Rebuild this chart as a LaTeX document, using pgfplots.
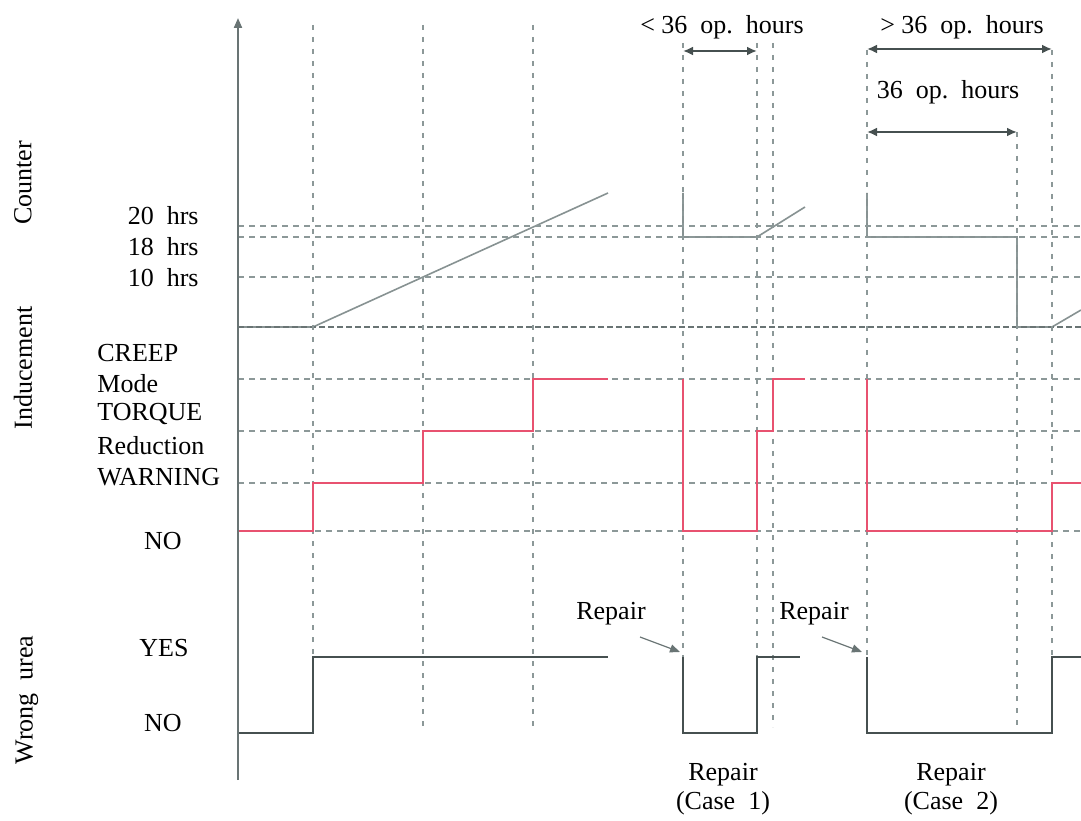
\documentclass[border=0pt]{standalone}
\usepackage{pgfplots}
\usepackage{pgfplotstable}
\pgfplotsset{compat=1.18}
\usepackage{fontspec}
\setmainfont{Liberation Serif}
\usetikzlibrary{arrows.meta}

\definecolor{gridgray}{RGB}{140,152,152}
\definecolor{axisgray}{RGB}{105,116,116}
\definecolor{countgray}{RGB}{135,146,146}
\definecolor{indred}{RGB}{232,82,112}
\definecolor{ureagray}{RGB}{70,80,80}

% picture coordinates: x to the right, y upwards, 1 unit = 1 px of the reference
\pgfplotstableread{
x h
238 0
313 0
608 26.8
}\countA
\pgfplotstableread{
x h
683 26.8
683 18
757 18
805 24
}\countB
\pgfplotstableread{
x h
867 26.8
867 18
1017 18
1017 0
1052 0
1081 3.4
}\countC

\begin{document}
\begin{tikzpicture}[every node/.style={font=\fontsize{13}{15}\selectfont, inner sep=0pt}]
\begin{axis}[
    scale only axis,
    width=540.5pt, height=410pt,
    xmin=0, xmax=1081, ymin=0, ymax=820,
    hide axis, clip=false,
]
    % counter, hours -> picture height
    \addplot[countgray, line width=0.8pt] table[x=x, y expr=493+5*\thisrow{h}] {\countA};
    \addplot[countgray, line width=0.8pt] table[x=x, y expr=493+5*\thisrow{h}] {\countB};
    \addplot[countgray, line width=0.8pt] table[x=x, y expr=493+5*\thisrow{h}] {\countC};

    % horizontal dashed levels
    \foreach \yy in {594,583,543,441,389,337,289} {
        \edef\temp{\noexpand\addplot[gridgray, line width=0.9pt, dash pattern=on 3pt off 2.5pt]
            coordinates {(238,\yy) (1081,\yy)};}
        \temp
    }
    \addplot[axisgray, line width=1pt, dash pattern=on 3pt off 1.5pt] coordinates {(238,493) (1081,493)};

    % vertical dashed events
    \addplot[gridgray, line width=0.9pt, dash pattern=on 2.5pt off 3.5pt] coordinates {(313,795) (313,87)};
    \addplot[gridgray, line width=0.9pt, dash pattern=on 2.5pt off 3.5pt] coordinates {(423,795) (423,90)};
    \addplot[gridgray, line width=0.9pt, dash pattern=on 2.5pt off 3.5pt] coordinates {(533,795) (533,90)};
    \addplot[gridgray, line width=0.9pt, dash pattern=on 2.5pt off 3.5pt] coordinates {(683,777) (683,87)};
    \addplot[gridgray, line width=0.9pt, dash pattern=on 2.5pt off 3.5pt] coordinates {(757,777) (757,87)};
    \addplot[gridgray, line width=0.9pt, dash pattern=on 2.5pt off 3.5pt] coordinates {(773,777) (773,93)};
    \addplot[gridgray, line width=0.9pt, dash pattern=on 2.5pt off 3.5pt] coordinates {(867,770) (867,87)};
    \addplot[gridgray, line width=0.9pt, dash pattern=on 2.5pt off 3.5pt] coordinates {(1017,688) (1017,87)};
    \addplot[gridgray, line width=0.9pt, dash pattern=on 2.5pt off 3.5pt] coordinates {(1052,770) (1052,87)};

    % inducement (red steps)
    \addplot[indred, line width=1.2pt] coordinates {
        (238,289) (313,289) (313,337) (423,337) (423,389) (533,389) (533,441) (608,441)
    };
    \addplot[indred, line width=1.2pt] coordinates {
        (683,441) (683,289) (757,289) (757,389) (773,389) (773,441) (805,441)
    };
    \addplot[indred, line width=1.2pt] coordinates {
        (867,441) (867,289) (1052,289) (1052,337) (1081,337)
    };

    % wrong urea (dark steps)
    \addplot[ureagray, line width=1.1pt] coordinates {
        (238,87) (313,87) (313,163) (608,163)
    };
    \addplot[ureagray, line width=1.1pt] coordinates {
        (683,163) (683,87) (757,87) (757,163) (800,163)
    };
    \addplot[ureagray, line width=1.1pt] coordinates {
        (867,163) (867,87) (1052,87) (1052,163) (1081,163)
    };

    % vertical axis with arrow
    \draw[axisgray, line width=1pt, -{Triangle[length=5pt,width=4pt]}] (axis cs:238,40) -- (axis cs:238,802);

    % duration arrows
    \draw[ureagray, line width=1pt, {Latex[length=5pt,width=4.5pt]}-{Latex[length=5pt,width=4.5pt]}]
        (axis cs:683,769) -- (axis cs:757,769);
    \draw[ureagray, line width=1pt, {Latex[length=5pt,width=4.5pt]}-{Latex[length=5pt,width=4.5pt]}]
        (axis cs:867,771) -- (axis cs:1052,771);
    \draw[ureagray, line width=1pt, {Latex[length=5pt,width=4.5pt]}-{Latex[length=5pt,width=4.5pt]}]
        (axis cs:867,688) -- (axis cs:1017,688);
    \node at (axis cs:722,793) {<\ 36\ \ op.\ \ hours};
    \node at (axis cs:962,793) {>\ 36\ \ op.\ \ hours};
    \node at (axis cs:948,728) {36\ \ op.\ \ hours};

    % repair pointers
    \node at (axis cs:611,206) {Repair};
    \node at (axis cs:814,206) {Repair};
    \draw[axisgray, line width=0.6pt, -{Triangle[length=5pt,width=4pt]}] (axis cs:640,183) -- (axis cs:680,168);
    \draw[axisgray, line width=0.6pt, -{Triangle[length=5pt,width=4pt]}] (axis cs:822,183) -- (axis cs:862,168);
    \node at (axis cs:723,45) {Repair};
    \node at (axis cs:723,17) {(Case\ \ 1)};
    \node at (axis cs:951,45) {Repair};
    \node at (axis cs:951,17) {(Case\ \ 2)};

    % panel titles
    \node[rotate=90] at (axis cs:23,637) {Counter};
    \node[rotate=90] at (axis cs:23,452) {Inducement};
    \node[rotate=90] at (axis cs:27,120) {Wrong\ \ urea};

    % level labels
    \node[anchor=east] at (axis cs:199,604) {20\ \ hrs};
    \node[anchor=east] at (axis cs:199,573) {18\ \ hrs};
    \node[anchor=east] at (axis cs:199,542) {10\ \ hrs};
    \node[anchor=west] at (axis cs:97,467) {CREEP};
    \node[anchor=west] at (axis cs:97,436) {Mode};
    \node[anchor=west] at (axis cs:97,406) {TORQUE};
    \node[anchor=west] at (axis cs:97,374) {Reduction};
    \node[anchor=west] at (axis cs:97,343) {WARNING};
    \node at (axis cs:163,279) {NO};
    \node at (axis cs:164,172) {YES};
    \node at (axis cs:163,97) {NO};
\end{axis}
\pgfresetboundingbox
\path (current axis.south west) rectangle (current axis.north east);
\end{tikzpicture}
\end{document}
